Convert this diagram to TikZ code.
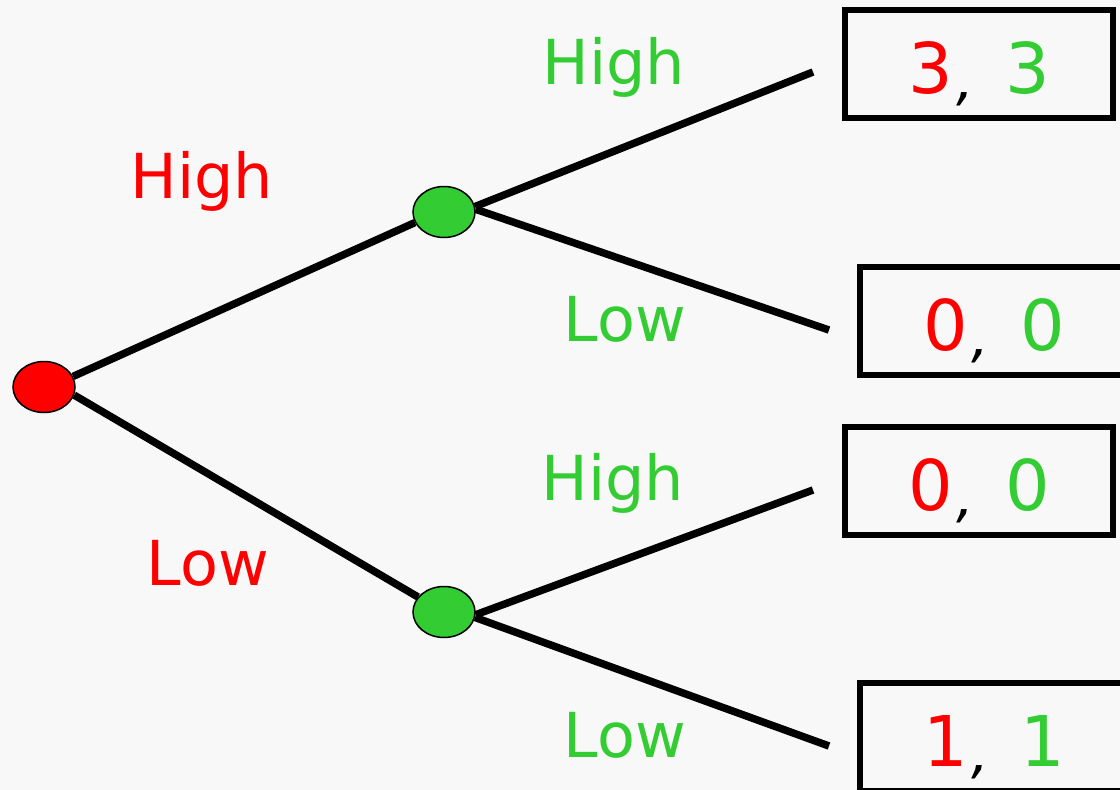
\documentclass[tikz,border=0pt]{standalone}
\usepackage{fontspec}
\setmainfont{DejaVu Sans}
\usetikzlibrary{shapes.geometric}
\definecolor{bg}{HTML}{F8F8F8}
\definecolor{pred}{HTML}{FF0000}
\definecolor{pgreen}{HTML}{33CC33}
\tikzset{
  decision/.style={ellipse, draw=black, line width=1.5pt, minimum width=62pt, minimum height=51pt, inner sep=0pt},
  edge/.style={line width=7.5pt},
  payoff/.style={rectangle, draw=black, line width=5.5pt, minimum width=268pt, minimum height=108pt, inner sep=0pt, text height=58pt, text depth=0pt, font=\fontsize{70}{84}\selectfont},
  lbl/.style={anchor=base, inner sep=0pt, font=\fontsize{62}{74}\selectfont},
}
\newcommand{\pay}[2]{\textcolor{pred}{#1}\hspace{0.05em}\raisebox{-6pt}{\fontspec{DejaVu Sans Oblique}\fontsize{56}{60}\selectfont,}\hspace{0.45em}\textcolor{pgreen}{#2}}
\begin{document}
\begin{tikzpicture}[x=1pt,y=-1pt]
\useasboundingbox (0,0) rectangle (1120,790);
\fill[bg] (0,0) rectangle (1120,790);
% nodes
\node[decision, fill=pred] (root) at (44,387) {};
\node[decision, fill=pgreen] (g1) at (444,212) {};
\node[decision, fill=pgreen] (g2) at (444,612) {};
% line ends
\coordinate (e1) at (813,72);
\coordinate (e2) at (829,330);
\coordinate (e3) at (813,490);
\coordinate (e4) at (829,746);
% edges
\draw[edge] (root.20) -- (g1.200);
\draw[edge] (root.-15) -- (g2.150);
\draw[edge] (g1.10) -- (e1);
\draw[edge] (g1.5) -- (e2);
\draw[edge] (g2.-5) -- (e3);
\draw[edge] (g2.-10) -- (e4);
% payoff boxes
\node[payoff] (b1) at (979,64) {\pay{3}{3}};
\node[payoff] (b2) at (994,321) {\pay{0}{0}};
\node[payoff] (b3) at (979,481) {\pay{0}{0}};
\node[payoff] (b4) at (994,737) {\pay{1}{1}};
% labels
\node[lbl, text=pred] (l1) at (202,198) {High};
\node[lbl, text=pred] (l2) at (208,585) {Low};
\node[lbl, text=pgreen] (l3) at (614,84) {High};
\node[lbl, text=pgreen] (l4) at (625,341) {Low};
\node[lbl, text=pgreen] (l5) at (613,500) {High};
\node[lbl, text=pgreen] (l6) at (625,757) {Low};
\end{tikzpicture}
\end{document}
